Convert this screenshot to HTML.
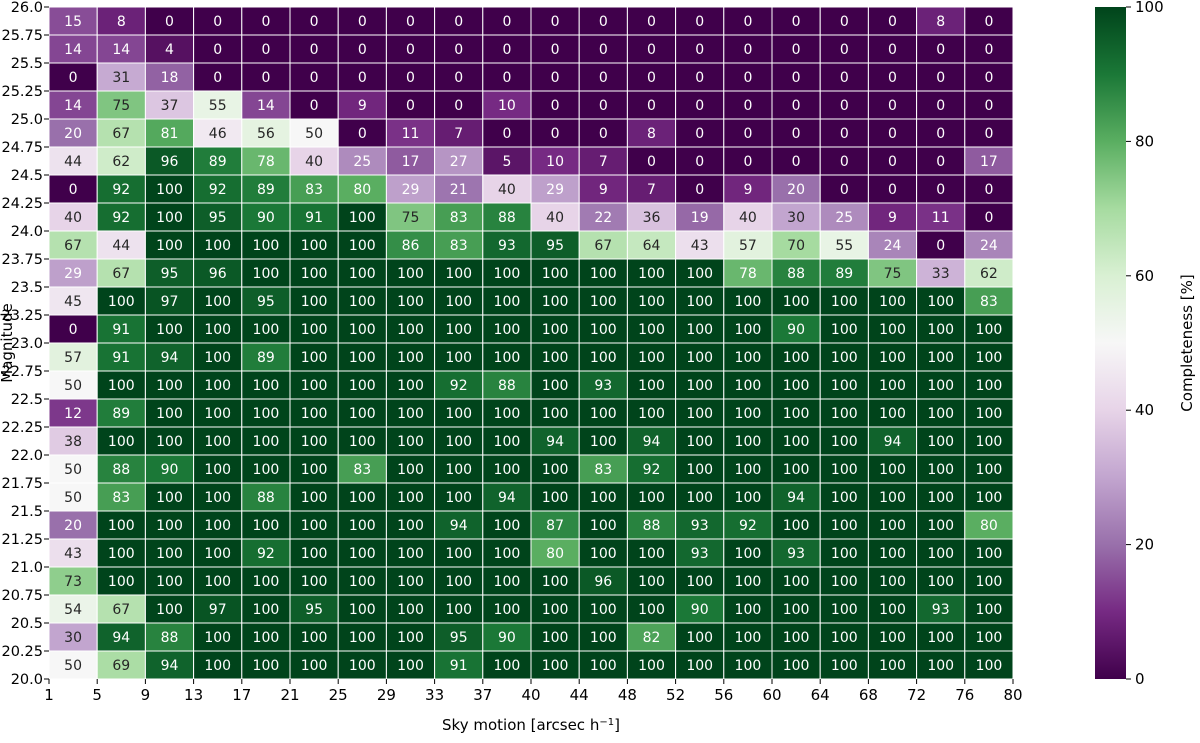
<!DOCTYPE html>
<html><head><meta charset="utf-8"><style>
body{margin:0;background:#fff;}
svg text{font-family:"DejaVu Sans","Liberation Sans",sans-serif;}
</style></head><body>
<svg id="chart" width="1200" height="738" xmlns="http://www.w3.org/2000/svg">
<defs><linearGradient id="cbgrad" x1="0" y1="1" x2="0" y2="0">
<stop offset="0" stop-color="#40004b"/><stop offset="0.1" stop-color="#762a83"/><stop offset="0.2" stop-color="#9970ab"/><stop offset="0.3" stop-color="#c2a5cf"/><stop offset="0.4" stop-color="#e7d4e8"/><stop offset="0.5" stop-color="#f7f7f7"/><stop offset="0.6" stop-color="#d9f0d3"/><stop offset="0.7" stop-color="#a6dba0"/><stop offset="0.8" stop-color="#5aae61"/><stop offset="0.9" stop-color="#1b7837"/><stop offset="1" stop-color="#00441b"/>
</linearGradient></defs>
<g id="cells"></g>
<g id="axes"></g>
<text x="12" y="343" font-size="15" text-anchor="middle" transform="rotate(-90 12 343)">Magnitude</text>
<text x="531" y="730" font-size="15" text-anchor="middle">Sky motion [arcsec h<tspan baseline-shift="super" font-size="10">−1</tspan>]</text>
<rect x="1095" y="7" width="31" height="672" fill="url(#cbgrad)"/>
<g id="cbticks"></g>
<text x="1192" y="343" font-size="15" text-anchor="middle" transform="rotate(-90 1192 343)">Completeness [%]</text>
</svg>
<script>
const xTickLabels=["1","5","9","13","17","21","25","29","33","37","40","44","48","52","56","60","64","68","72","76","80"];
const yTickLabels=["20.0","20.25","20.5","20.75","21.0","21.25","21.5","21.75","22.0","22.25","22.5","22.75","23.0","23.25","23.5","23.75","24.0","24.25","24.5","24.75","25.0","25.25","25.5","25.75","26.0"];
const cbTicks=[0,20,40,60,80,100];
// rows from top (magnitude 26.0) to bottom (20.0)
const values=[
[15,8,0,0,0,0,0,0,0,0,0,0,0,0,0,0,0,0,8,0],
[14,14,4,0,0,0,0,0,0,0,0,0,0,0,0,0,0,0,0,0],
[0,31,18,0,0,0,0,0,0,0,0,0,0,0,0,0,0,0,0,0],
[14,75,37,55,14,0,9,0,0,10,0,0,0,0,0,0,0,0,0,0],
[20,67,81,46,56,50,0,11,7,0,0,0,8,0,0,0,0,0,0,0],
[44,62,96,89,78,40,25,17,27,5,10,7,0,0,0,0,0,0,0,17],
[0,92,100,92,89,83,80,29,21,40,29,9,7,0,9,20,0,0,0,0],
[40,92,100,95,90,91,100,75,83,88,40,22,36,19,40,30,25,9,11,0],
[67,44,100,100,100,100,100,86,83,93,95,67,64,43,57,70,55,24,0,24],
[29,67,95,96,100,100,100,100,100,100,100,100,100,100,78,88,89,75,33,62],
[45,100,97,100,95,100,100,100,100,100,100,100,100,100,100,100,100,100,100,83],
[0,91,100,100,100,100,100,100,100,100,100,100,100,100,100,90,100,100,100,100],
[57,91,94,100,89,100,100,100,100,100,100,100,100,100,100,100,100,100,100,100],
[50,100,100,100,100,100,100,100,92,88,100,93,100,100,100,100,100,100,100,100],
[12,89,100,100,100,100,100,100,100,100,100,100,100,100,100,100,100,100,100,100],
[38,100,100,100,100,100,100,100,100,100,94,100,94,100,100,100,100,94,100,100],
[50,88,90,100,100,100,83,100,100,100,100,83,92,100,100,100,100,100,100,100],
[50,83,100,100,88,100,100,100,100,94,100,100,100,100,100,94,100,100,100,100],
[20,100,100,100,100,100,100,100,94,100,87,100,88,93,92,100,100,100,100,80],
[43,100,100,100,92,100,100,100,100,100,80,100,100,93,100,93,100,100,100,100],
[73,100,100,100,100,100,100,100,100,100,100,96,100,100,100,100,100,100,100,100],
[54,67,100,97,100,95,100,100,100,100,100,100,100,90,100,100,100,100,93,100],
[30,94,88,100,100,100,100,100,95,90,100,100,82,100,100,100,100,100,100,100],
[50,69,94,100,100,100,100,100,91,100,100,100,100,100,100,100,100,100,100,100]
];
const L=49,R=1013,T=7,B=679;
const nC=20,nR=24,cw=(R-L)/nC,rh=(B-T)/nR;
const xPos=i=>L+i*cw, yPos=j=>T+j*rh;
const stops=[[64,0,75],[118,42,131],[153,112,171],[194,165,207],[231,212,232],[247,247,247],[217,240,211],[166,219,160],[90,174,97],[27,120,55],[0,68,27]];
function cmap(v){let t=Math.max(0,Math.min(100,v))/10;let i=Math.min(9,Math.floor(t));let f=t-i;let a=stops[i],b=stops[i+1];return a.map((c,k)=>Math.round(c+(b[k]-c)*f));}
function lum(c){const l=c.map(x=>{x/=255;return x<=0.03928?x/12.92:Math.pow((x+0.055)/1.055,2.4);});return 0.2126*l[0]+0.7152*l[1]+0.0722*l[2];}
const NS="http://www.w3.org/2000/svg";
const cells=document.getElementById('cells'),axes=document.getElementById('axes'),cbg=document.getElementById('cbticks');
function mk(tag,attrs,parent){const e=document.createElementNS(NS,tag);for(const k in attrs)e.setAttribute(k,attrs[k]);parent.appendChild(e);return e;}
values.forEach((row,j)=>row.forEach((v,i)=>{
  const c=cmap(v);
  const r=mk('rect',{x:xPos(i),y:yPos(j),width:cw,height:rh,fill:`rgb(${c})`,stroke:'#fff','stroke-width':1},cells);
  
  
  const t=mk('text',{x:xPos(i)+cw/2,y:yPos(j)+rh/2+5,'font-size':14,'text-anchor':'middle',fill:lum(c)>0.408?'#262626':'#ffffff'},cells);
  t.textContent=v;
  
  
}));
xTickLabels.forEach((s,i)=>{
  mk('line',{x1:xPos(i),x2:xPos(i),y1:B,y2:B+5,stroke:'#000'},axes);
  const t=mk('text',{x:xPos(i),y:B+21,'font-size':15,'text-anchor':'middle'},axes);
  t.textContent=s;
  
  
});
yTickLabels.forEach((s,k)=>{
  const y=B-k*rh;
  mk('line',{x1:L-5,x2:L,y1:y,y2:y,stroke:'#000'},axes);
  const t=mk('text',{x:L-6,y:y+5,'font-size':14.5,'text-anchor':'end'},axes);
  t.textContent=s;
  
  
});
cbTicks.forEach(v=>{
  const y=B-(v/100)*(B-T);
  mk('line',{x1:1126,x2:1131,y1:y,y2:y,stroke:'#000'},cbg);
  const t=mk('text',{x:1135,y:y+5,'font-size':15},cbg);
  t.textContent=v;
  
  
});
</script>
</body></html>
